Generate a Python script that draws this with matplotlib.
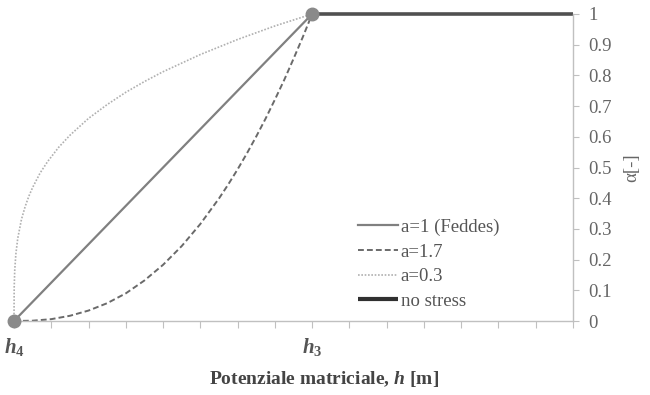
import matplotlib
matplotlib.use("Agg")
import matplotlib.pyplot as plt

plt.rcParams["font.family"] = ["Liberation Serif", "DejaVu Serif"]
plt.rcParams["mathtext.fontset"] = "custom"
plt.rcParams["mathtext.rm"] = "Liberation Serif:bold"
plt.rcParams["mathtext.it"] = "Liberation Serif:bold:italic"

# Pressure-head axis: h4 at 0, h3 at 8, end of axis at 15
h4 = 0.0
h3 = 8.0
h_end = 15.0
tick_positions = list(range(0, 16))
tick_labels = {0: r"$h_4$", 8: r"$h_3$"}

# Reduction factor alpha between h4 and h3
h_lin = [0.0, 8.0]
alpha_lin = [0.0, 1.0]

h_a17 = [0.0, 0.5, 1.0, 1.5, 2.0, 2.5, 3.0, 3.5, 4.0, 4.5, 5.0, 5.5, 5.75, 6.0, 6.25,
         6.5, 6.75, 7.0, 7.25, 7.5, 7.75, 8.0]
alpha_a17 = [0.0, 0.001, 0.006, 0.017, 0.034, 0.058, 0.090, 0.132, 0.183, 0.244, 0.316,
             0.399, 0.445, 0.494, 0.546, 0.601, 0.659, 0.721, 0.785, 0.854, 0.925, 1.0]

h_a03 = [0.0, 0.005, 0.02, 0.05, 0.1, 0.2, 0.3, 0.4, 0.5, 0.7, 0.9, 1.2, 1.5, 2.0, 2.5,
         3.0, 3.5, 4.0, 5.0, 6.0, 7.0, 8.0]
alpha_a03 = [0.0, 0.109, 0.166, 0.218, 0.269, 0.331, 0.373, 0.407, 0.435, 0.482, 0.519,
             0.566, 0.605, 0.660, 0.705, 0.745, 0.780, 0.812, 0.868, 0.917, 0.961, 1.0]

# No-stress plateau
h_nostress = [8.0, 15.0]
alpha_nostress = [1.0, 1.0]

# Threshold points h4 and h3
h_points = [0.0, 8.0]
alpha_points = [0.0, 1.0]

y_ticks = [0, 0.1, 0.2, 0.3, 0.4, 0.5, 0.6, 0.7, 0.8, 0.9, 1]
y_tick_labels = ["0", "0.1", "0.2", "0.3", "0.4", "0.5", "0.6", "0.7", "0.8", "0.9", "1"]

fig = plt.figure(figsize=(6.5, 3.95), dpi=100)
ax = fig.add_axes([14 / 650, 74 / 395, (573 - 14) / 650, (321 - 14) / 395])

ax.plot(h_lin, alpha_lin, color="#808080", lw=1.6, ls="-",
        label="a=1 (Feddes)", clip_on=False)
ax.plot(h_a17, alpha_a17, color="#6a6a6a", lw=1.4, ls=(0, (3, 1.6)),
        label="a=1.7", clip_on=False)
ax.plot(h_a03, alpha_a03, color="#b0b0b0", lw=1.2, ls=(0, (1, 1)),
        label="a=0.3", clip_on=False)
ax.plot(h_nostress, alpha_nostress, color="#505050", lw=2.6, label="no stress",
        clip_on=False, solid_capstyle="butt")
ax.plot(h_points, alpha_points, ls="none", marker="o", ms=9, color="#8a8a8a",
        clip_on=False, zorder=5)

ax.set_xlim(h4, h_end)
ax.set_ylim(0, 1)

for s in ["top", "left"]:
    ax.spines[s].set_visible(False)
for s in ["bottom", "right"]:
    ax.spines[s].set_color("#c0c0c0")
    ax.spines[s].set_linewidth(1.0)

ax.yaxis.tick_right()
ax.set_yticks(y_ticks)
ax.set_yticklabels(y_tick_labels)
ax.tick_params(axis="y", direction="out", length=4, color="#c0c0c0",
               labelsize=13.5, labelcolor="#666666", pad=7)
ax.set_xticks(tick_positions)
ax.set_xticklabels([tick_labels.get(t, "") for t in tick_positions])
ax.tick_params(axis="x", direction="out", length=5, color="#c0c0c0",
               labelsize=15, labelcolor="#555555", pad=6)

ax.yaxis.set_label_position("right")
ax.set_ylabel("α[-]", rotation=90, fontsize=13.5, color="#666666", labelpad=8)

fig.text(324 / 650, 1 - 379 / 395, r"Potenziale matriciale, $h$ [m]",
         ha="center", va="center", fontsize=14, fontweight="bold", color="#444444")

leg = ax.legend(loc="lower left", bbox_to_anchor=(336 / 559, 0.012),
                frameon=False, fontsize=13.5, handlelength=2.15,
                handletextpad=0.15, labelspacing=0.4, borderaxespad=0)
for t in leg.get_texts():
    t.set_color("#555555")
leg.get_lines()[3].set_color("#303030")
leg.get_lines()[3].set_linewidth(3)

fig.savefig("out.png", dpi=100)
